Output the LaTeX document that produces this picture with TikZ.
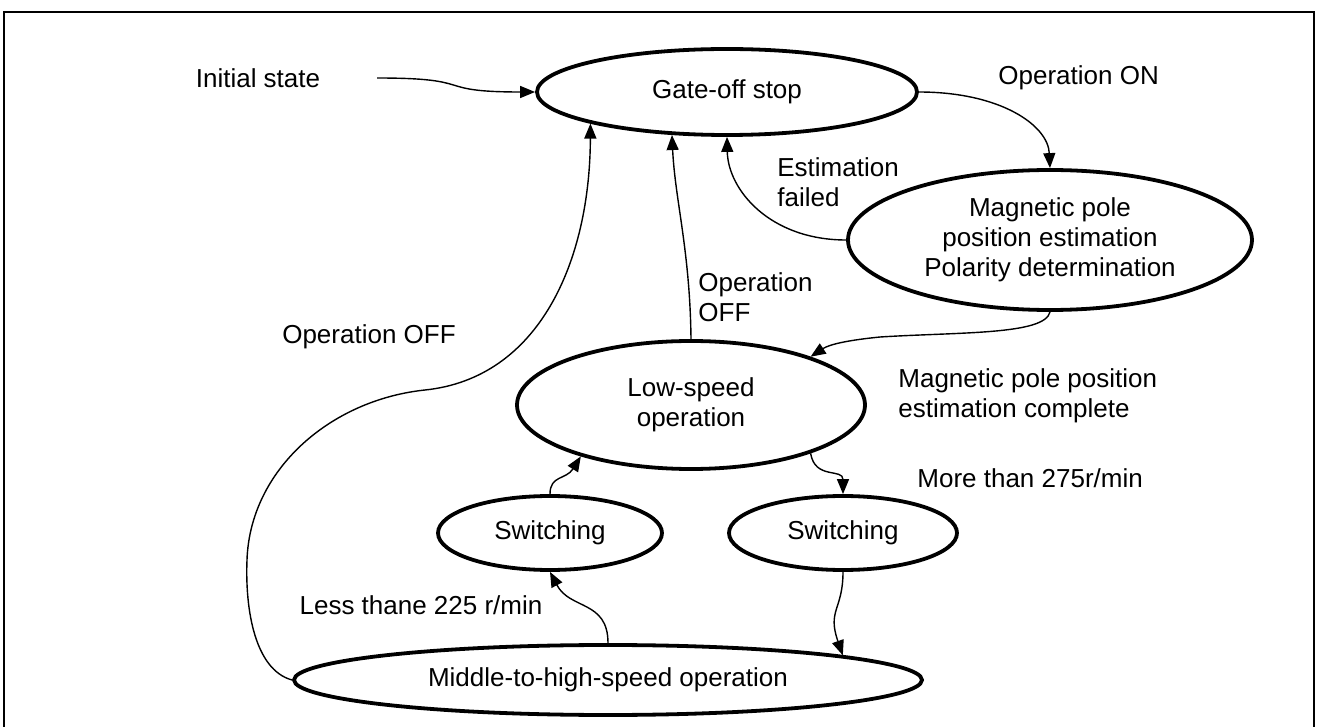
\documentclass[tikz,border=0pt]{standalone}
\usepackage{fontspec}
\setmainfont{Liberation Sans}
\usetikzlibrary{arrows.meta,shapes.geometric}

\begin{document}
\begin{tikzpicture}[x=0.5pt, y=-0.5pt, >={Triangle[length=7.5pt, width=6pt]},
	every node/.style={font=\fontsize{13}{15}\selectfont, inner sep=0pt},
	statebox/.style={ellipse, draw, line width=1.9pt, align=center},
	link/.style={->, line width=0.7pt}]
	\useasboundingbox (0,0) rectangle (1319,727);
	\draw[line width=1.2pt] (4,727) -- (4,12) -- (1314,12) -- (1314,727);

	\node[statebox, minimum width=190pt, minimum height=43pt] (gate) at (727,92) {Gate-off stop};
	\node[statebox, minimum width=202pt, minimum height=70pt] (mag) at (1050,240) {Magnetic pole\\position estimation\\Polarity determination};
	\node[statebox, minimum width=174pt, minimum height=64pt] (low) at (691,405) {Low-speed\\operation};
	\node[statebox, minimum width=112pt, minimum height=37pt] (swl) at (550,533) {Switching};
	\node[statebox, minimum width=114pt, minimum height=37pt] (swr) at (843,533) {Switching};
	\node[statebox, minimum width=314pt, minimum height=35pt] (mid) at (608,680) {Middle-to-high-speed operation};

	\node (init) at (258,78) {Initial state};
	\coordinate (initstart) at (377,78);
	\node[anchor=west] (opon) at (998,78) {Operation ON};
	\node[anchor=west, align=left] (estfail) at (777,182) {Estimation\\failed};
	\node[anchor=west, align=left] (offmid) at (698,297) {Operation\\OFF};
	\node (offleft) at (369,337) {Operation OFF};
	\node[anchor=west, align=left] (estdone) at (898,396) {Magnetic pole position\\estimation complete};
	\node[anchor=west] (more) at (917,478) {More than 275r/min};
	\node (less) at (421,605) {Less thane 225 r/min};

	\draw[link] (initstart) .. controls (480,78) and (430,92) .. (gate.west);
	\draw[link] (gate.east) .. controls (1000,92) and (1048,125) .. (mag.north);
	\draw[link] (mag.west) .. controls (770,240) and (728,190) .. (gate.south);
	\draw[link] (low.north) .. controls (690,250) and (675,200) .. (gate.218);
	\draw[link] (mag.south) .. controls (1045,335) and (960,332) .. (880,337) .. controls (850,340) and (830,344) .. (low.22);
	\draw[link] (low.-22) .. controls (815,480) and (843,468) .. (swr.north);
	\draw[link] (swl.north) .. controls (550,475) and (566,480) .. (low.205);
	\draw[link] (mid.north) .. controls (608,600) and (570,610) .. (swl.south);
	\draw[link] (swr.south) .. controls (843,610) and (827,610) .. (mid.6.5);
	\draw[link] (mid.west) .. controls (255,670) and (245,610) .. (247,560) .. controls (250,470) and (330,400) .. (425,390) .. controls (540,378) and (590,260) .. (gate.193);
\end{tikzpicture}
\end{document}
